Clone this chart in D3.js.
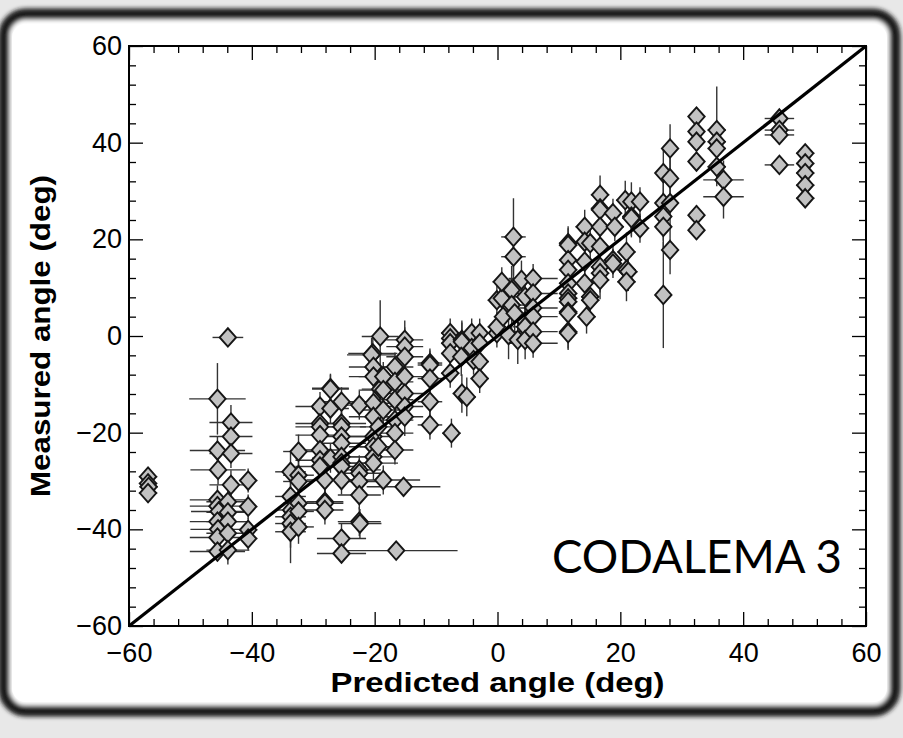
<!DOCTYPE html>
<html><head><meta charset="utf-8">
<script src="https://cdn.jsdelivr.net/npm/d3@7"></script>
<style>body{margin:0;background:#fff;}svg{display:block;}</style>
</head><body>
<svg id="chart" width="903" height="738"></svg>
<script>
// ---------------- data ----------------
const predicted = [
-56.9,-56.9,-56.8,-56.9,
-45.6,-45.6,-45.5,-45.6,-45.6,-45.4,-45.6,-45.5,-45.6,-45.6,
-43.9,-43.4,-43.4,-43.4,-43.4,-43.9,-43.9,-43.9,-43.9,-43.9,
-40.6,-40.6,-40.6,-40.6,
-33.7,-33.7,-33.6,-33.7,-33.7,-33.7,
-32.4,-32.4,-32.4,-32.4,-32.4,-32.4,
-28.9,-28.9,-28.9,-28.9,-28.9,-28.9,-28.9,
-28.1,-28.1,-28.1,-28.1,
-27.2,-27.2,-27.2,-27.2,
-25.4,-25.4,-25.4,-25.4,-25.4,-25.4,-25.4,-25.4,-25.4,-25.4,-25.4,
-22.5,-22.5,-22.5,-22.5,-22.5,-22.5,-22.4,
-20.3,-20.5,-20.2,-20.2,-20.2,-20.2,-20.2,-20.2,-20.2,-20.2,
-19.1,-19.4,-19.4,-19.1,
-18.6,-18.6,-18.6,-18.6,
-16.7,-16.7,-16.7,-16.7,-16.7,-16.7,-16.5,
-15.1,-15.1,-15.1,-15.1,-15.1,-15.1,-15.1,-15.3,
-11.0,-11.0,-11.0,-11.0,-11.0,
-7.7,-7.7,-7.7,-7.7,-7.7,-7.5,
-5.8,-5.8,-5.9,-5.8,-5.0,
-4.2,-4.2,-3.9,
-2.9,-2.9,-2.9,-2.9,
-0.1,-0.1,0.9,-0.1,0.7,0.7,
2.6,2.6,2.3,2.3,2.8,1.8,3.3,
3.9,4.5,4.5,4.5,4.5,
5.8,5.8,5.8,5.8,5.8,5.8,
11.5,11.5,11.5,11.5,11.5,11.5,11.5,11.5,11.5,11.5,11.5,11.5,
14.2,14.2,15.1,14.2,14.2,15.1,15.1,14.5,
16.7,16.7,16.7,16.7,16.7,16.7,16.7,16.7,
18.8,19.1,18.8,18.8,
20.8,21.8,21.8,21.8,21.0,21.0,21.3,21.0,
23.2,23.2,
28.1,27.0,28.1,27.0,28.1,27.0,27.0,28.1,27.0,
32.4,32.4,32.4,32.4,32.4,32.4,
35.7,35.7,35.7,35.7,36.8,36.8,
45.9,45.9,45.9,45.9,
50.1,50.1,50.1,50.1,50.1
];
const measured = [
-29.1,-30.5,-31.2,-32.5,
-13.0,-23.7,-27.7,-33.9,-35.2,-36.3,-38.4,-40.0,-41.7,-44.6,
-0.3,-17.9,-20.8,-24.3,-30.8,-34.3,-36.5,-38.4,-40.8,-44.3,
-29.9,-35.3,-40.1,-41.9,
-28.1,-33.2,-36.0,-37.4,-38.8,-40.5,
-23.9,-28.8,-30.1,-34.6,-36.3,-39.5,
-14.6,-18.1,-18.8,-20.5,-23.6,-25.7,-27.0,
-29.8,-34.3,-34.6,-36.0,
-10.8,-11.0,-15.0,-25.3,
-13.6,-18.1,-18.8,-20.8,-22.2,-25.0,-26.3,-27.0,-29.8,-41.9,-45.0,
-14.3,-27.7,-28.4,-30.1,-32.9,-38.4,-38.8,
-3.6,-3.9,-6.4,-8.4,-13.9,-16.7,-20.8,-22.9,-25.0,-26.3,
-0.1,-18.8,-22.9,-11.0,
-8.4,-11.2,-15.3,-29.8,
-6.4,-9.5,-13.2,-17.4,-20.1,-23.6,-44.4,
-0.8,-2.2,-4.3,-8.4,-11.9,-14.6,-16.7,-31.2,
-5.6,-6.0,-8.8,-13.6,-18.4,
0.6,-0.5,-1.5,-3.6,-7.7,-20.1,
-0.8,-1.2,-4.3,-11.9,-12.6,
0.6,-2.5,-5.0,
0.6,-1.5,-5.3,-8.8,
0.6,1.9,4.0,7.4,7.8,11.2,
20.5,16.4,9.5,6.4,4.7,0.2,-0.8,
11.6,8.1,3.0,1.9,-0.8,
11.9,8.8,5.8,4.0,0.9,-1.5,
19.2,18.8,15.7,13.7,10.9,8.8,7.8,7.1,5.0,4.7,0.9,0.6,
22.6,19.5,19.2,15.4,10.9,8.1,7.4,4.0,
29.2,26.4,26.1,22.6,18.5,14.3,13.0,11.6,
25.4,22.6,15.7,15.0,
28.1,27.8,24.7,24.4,17.4,13.7,13.3,11.2,
27.8,22.3,
38.8,33.7,32.6,27.5,27.5,24.7,22.6,17.8,8.5,
45.4,42.3,40.2,36.1,25.0,21.9,
42.6,40.2,38.8,35.0,32.3,28.8,
45.0,42.6,41.6,35.4,
37.8,35.7,33.7,31.2,28.5
];
const errPredicted = [
1.5,1.5,1.5,1.5,
4.6,4.5,4.5,4.5,4.5,4.5,4.5,4.5,4.5,4.5,
2.5,3.5,3.5,3.5,3.5,3.5,3.5,3.5,3.5,3.5,
1.5,1.5,1.5,1.5,
2.5,2.5,2.5,2.5,2.5,2.5,
2.5,2.5,2.5,2.5,2.5,2.5,
4,4,4,4,4,4,4,
3,3,3,3,
3,3,3,3,
4,4,4,4,4,4,4,4,4,4,4,
3.5,3.5,3.5,3.5,3.5,3.5,3.5,
4,4,4,4,4,4,4,4,4,4,
3,3,3,3,
4,4,4,6,
3,3,3,3,3,3,10,
3,3,3,3,3,3,3,6,
2,2,2,2,2,
1.5,1.5,1.5,1.5,1.5,1.5,
1.5,1.5,1.5,1.5,1.5,
1.5,1.5,1.5,
1.5,1.5,1.5,1.5,
1.5,1.5,1.5,1.5,1.5,1.5,
2,2,2,2,2,2,2,
2,2,2,2,2,
4,4,4,4,4,4,
1.5,1.5,1.5,1.5,1.5,1.5,1.5,1.5,1.5,1.5,1.5,1.5,
1.5,1.5,1.5,1.5,1.5,1.5,1.5,1.5,
1.5,1.5,1.5,1.5,1.5,1.5,1.5,1.5,
1.5,1.5,1.5,1.5,
1.5,1.5,1.5,1.5,1.5,1.5,1.5,1.5,
1.5,1.5,
1,1,1,1,1,1,1,1,1,
1,1,1,1,1,1,
1.5,1.5,1.5,1.5,3.3,3.3,
2.4,2.4,2.4,2.4,
1.5,1.5,1.5,1.5,1.5
];
const errMeasured = [
1,1,1,1,
7.4,3,3,3,3,3,3,3,3,2,
0.3,3.6,3,3,3,3,3,3,3,3,
2.5,2.5,2.5,2.5,
4,4,4,4,5,6.5,
3.5,3.5,3.5,3.5,3.5,3.5,
3,3,3,3,3,3,3,
3,3,3,3,
3,3,3,3,
3,3,3,3,3,3,3,3,3,3,2,
3,3,3,3,3,3,3,
3.5,3.5,3.5,3.5,3.5,3.5,3.5,3.5,3.5,3.5,
7.5,4,4,4,
3,3,3,3,
3,3,3,3,3,3,1,
4,4,4,4,4,4,4,2,
3,3,3,3,3,
3,3,3,3,3,3,
4,4,4,4,4,
3,3,3,
3,3,3,3,
3,3,3,3,3,3,
8,5,5,5,5,5,5,
4,4,4,4,4,
3,3,3,3,3,3,
3.5,3.5,3.5,3.5,3.5,3.5,3.5,3.5,3.5,3.5,3.5,3.5,
3.5,3.5,3.5,3.5,3.5,3.5,3.5,3.5,
4,4,4,4,4,4,4,4,
3,3,3,3,
4,4,4,4,4,4,4,4,
3,3,
5,5,5,5,5,5,5,5,11,
2,2,2,2,2,2,
9,4,4,4,4,4.5,
2,2,2,1,
1.5,1.5,1.5,1.5,1.5
];
const majorTicks = [-60,-40,-20,0,20,40,60];
const minorTicks = [-56,-52,-48,-44,-36,-32,-28,-24,-16,-12,-8,-4,4,8,12,16,24,28,32,36,44,48,52,56];
const xTitle = "Predicted angle (deg)";
const yTitle = "Measured angle (deg)";
const label = "CODALEMA 3";
const lineEnds = [-60, 60];

// ---------------- drawing ----------------
const svg = d3.select("#chart");
const W = 903, H = 738;
const L = 129, R = 866, T = 46, B = 626;

const defs = svg.append("defs");
const blur = defs.append("filter").attr("id","blur").attr("x","-5%").attr("y","-5%").attr("width","110%").attr("height","110%");
blur.append("feGaussianBlur").attr("stdDeviation", 2.2);

// photo-frame background
svg.append("rect").attr("width",W).attr("height",H).attr("fill","#e8e8e8");
svg.append("rect").attr("x",4).attr("y",14).attr("width",891).attr("height",697)
  .attr("rx",22).attr("fill","#ffffff").attr("stroke","#1c1c1c").attr("stroke-width",11)
  .attr("filter","url(#blur)");
svg.append("rect").attr("x",12).attr("y",24).attr("width",875).attr("height",678)
  .attr("rx",14).attr("fill","#ffffff");

const x = d3.scaleLinear().domain([-60,60]).range([L,R]);
const y = d3.scaleLinear().domain([-60,60]).range([B,T]);

const data = predicted.map((p,i)=>({p, m:measured[i], ep:errPredicted[i], em:errMeasured[i]}));

// error bars
const eb = svg.append("g").attr("stroke","#333").attr("stroke-width",1.4);
eb.selectAll("line.h").data(data).join("line").attr("class","h")
  .attr("x1",d=>x(Math.max(-60,d.p-d.ep))).attr("x2",d=>x(Math.min(60,d.p+d.ep)))
  .attr("y1",d=>y(d.m)).attr("y2",d=>y(d.m));
eb.selectAll("line.v").data(data).join("line").attr("class","v")
  .attr("x1",d=>x(d.p)).attr("x2",d=>x(d.p))
  .attr("y1",d=>y(d.m-d.em)).attr("y2",d=>y(d.m+d.em));

// diamonds (slightly taller than wide)
const hw = 8.2, hh = 9.2;
const diamond = `M0,${-hh}L${hw},0L0,${hh}L${-hw},0Z`;
svg.append("g").selectAll("path").data(data).join("path")
  .attr("d", diamond)
  .attr("transform", d=>`translate(${x(d.p)},${y(d.m)})`)
  .attr("fill","#c2c2c2").attr("stroke","#161616").attr("stroke-width",1.9)
  .attr("stroke-linejoin","miter");

// diagonal line
svg.append("line")
  .attr("x1",x(lineEnds[0])).attr("y1",y(lineEnds[0]))
  .attr("x2",x(lineEnds[1])).attr("y2",y(lineEnds[1]))
  .attr("stroke","#000").attr("stroke-width",3.2);

// axes
const fmt = d3.format("d");
function styleAxis(g){
  g.select(".domain").remove();
  g.selectAll(".tick line").attr("stroke","#000").attr("stroke-width",1.3);
  g.selectAll("text").attr("font-family","'Liberation Sans', Arial, sans-serif").attr("font-size",27).attr("fill","#000");
}
svg.append("g").attr("transform",`translate(0,${B})`)
  .call(d3.axisBottom(x).tickValues(majorTicks).tickSize(-14).tickPadding(17).tickFormat(fmt)).call(styleAxis);
svg.append("g").attr("transform",`translate(0,${B})`)
  .call(d3.axisBottom(x).tickValues(minorTicks).tickSize(-7).tickFormat("")).call(styleAxis);
svg.append("g").attr("transform",`translate(0,${T})`)
  .call(d3.axisTop(x).tickValues(majorTicks).tickSize(-14).tickFormat("")).call(styleAxis);
svg.append("g").attr("transform",`translate(0,${T})`)
  .call(d3.axisTop(x).tickValues(minorTicks).tickSize(-7).tickFormat("")).call(styleAxis);
svg.append("g").attr("transform",`translate(${L},0)`)
  .call(d3.axisLeft(y).tickValues(majorTicks).tickSize(-14).tickPadding(7).tickFormat(fmt)).call(styleAxis);
svg.append("g").attr("transform",`translate(${L},0)`)
  .call(d3.axisLeft(y).tickValues(minorTicks).tickSize(-7).tickFormat("")).call(styleAxis);
svg.append("g").attr("transform",`translate(${R},0)`)
  .call(d3.axisRight(y).tickValues(majorTicks).tickSize(-14).tickFormat("")).call(styleAxis);
svg.append("g").attr("transform",`translate(${R},0)`)
  .call(d3.axisRight(y).tickValues(minorTicks).tickSize(-7).tickFormat("")).call(styleAxis);

svg.append("rect").attr("x",L).attr("y",T).attr("width",R-L).attr("height",B-T)
  .attr("fill","none").attr("stroke","#000").attr("stroke-width",2);

// titles
svg.append("text").attr("x",(L+R)/2).attr("y",692).attr("text-anchor","middle")
  .attr("font-family","'Liberation Sans', Arial, sans-serif").attr("font-weight","bold")
  .attr("font-size",28).attr("textLength",334).attr("lengthAdjust","spacingAndGlyphs").text(xTitle);
svg.append("text").attr("transform",`translate(50,${(T+B)/2}) rotate(-90)`).attr("text-anchor","middle")
  .attr("font-family","'Liberation Sans', Arial, sans-serif").attr("font-weight","bold")
  .attr("font-size",28).attr("textLength",322).attr("lengthAdjust","spacingAndGlyphs").text(yTitle);

svg.append("text").attr("x",842).attr("y",573).attr("text-anchor","end")
  .attr("font-family","Lato, 'Open Sans', sans-serif").attr("font-size",47)
  .attr("textLength",290).attr("lengthAdjust","spacingAndGlyphs").text(label);
</script>
</body></html>
